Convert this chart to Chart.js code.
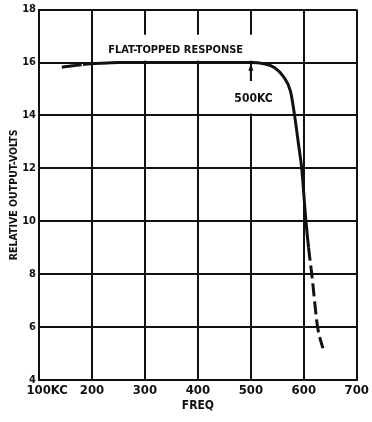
<!DOCTYPE html>
<html lang="en">
<head>
    <meta charset="UTF-8">
    <title>Flat-topped response</title>
    <script src="https://cdn.jsdelivr.net/npm/chart.js"></script>
    <style>
        body {
            margin: 0;
            padding: 0;
            background-color: #ffffff;
        }
        canvas {
            display: block;
        }
    </style>
</head>
<body>

<canvas id="grafico" width="372" height="422"></canvas>

<script>
    // Datos
    const freqs = [143, 183, 215, 250, 300, 400, 500, 525, 545, 562, 575, 584, 590, 596, 604, 609, 615, 626, 636];
    const volts = [15.82, 15.92, 15.97, 16.0, 16.0, 16.0, 16.0, 15.95, 15.8, 15.45, 14.9, 13.8, 12.9, 12.0, 10.0, 9.0, 8.0, 6.0, 5.2];
    const xTicks = [100, 200, 300, 400, 500, 600, 700];
    const yTicks = [4, 6, 8, 10, 12, 14, 16, 18];

    const fuente = "'Liberation Sans Narrow', 'DejaVu Sans Condensed', 'Liberation Sans', sans-serif";
    const negro = '#111111';

    // Textos y flecha sobre el grafico
    const anotaciones = {
        id: 'anotaciones',
        beforeDatasetsDraw(chart) {
            const {ctx, scales: {x, y}} = chart;
            ctx.save();
            ctx.fillStyle = '#ffffff';
            // fondo blanco tras los textos (tapa la rejilla)
            ctx.fillRect(x.getPixelForValue(233), y.getPixelForValue(17.05),
                x.getPixelForValue(508) - x.getPixelForValue(233),
                y.getPixelForValue(16.07) - y.getPixelForValue(17.05));
            ctx.fillRect(x.getPixelForValue(470), y.getPixelForValue(15.3),
                x.getPixelForValue(540) - x.getPixelForValue(470),
                y.getPixelForValue(14.07) - y.getPixelForValue(15.3));
            ctx.restore();
        },
        afterDatasetsDraw(chart) {
            const {ctx, scales: {x, y}} = chart;
            ctx.save();
            ctx.fillStyle = negro;
            ctx.strokeStyle = negro;
            ctx.textAlign = 'center';
            ctx.textBaseline = 'middle';
            ctx.font = 'bold 11px ' + fuente;
            ctx.fillText('FLAT-TOPPED RESPONSE', x.getPixelForValue(358), y.getPixelForValue(16.46));
            ctx.font = 'bold 12px ' + fuente;
            ctx.fillText('500KC', x.getPixelForValue(505), y.getPixelForValue(14.63));

            // flecha hacia 500KC
            const ax = x.getPixelForValue(500);
            const punta = y.getPixelForValue(15.95);
            ctx.lineWidth = 2;
            ctx.beginPath();
            ctx.moveTo(ax, y.getPixelForValue(15.33));
            ctx.lineTo(ax, punta + 4);
            ctx.stroke();
            ctx.beginPath();
            ctx.moveTo(ax, punta);
            ctx.lineTo(ax - 2.5, punta + 7);
            ctx.lineTo(ax + 2.5, punta + 7);
            ctx.closePath();
            ctx.fill();
            ctx.restore();
        }
    };

    const ctxGrafico = document.getElementById('grafico').getContext('2d');
    new Chart(ctxGrafico, {
        type: 'line',
        data: {
            datasets: [{
                label: 'Relative output',
                data: freqs.map((f, i) => ({x: f, y: volts[i]})),
                borderColor: negro,
                borderWidth: 3,
                pointRadius: 0,
                fill: false,
                cubicInterpolationMode: 'monotone',
                borderCapStyle: 'butt',
                segment: {
                    borderDash: c => {
                        if (c.p1.parsed.x <= 183) return [20, 3];
                        if (c.p0.parsed.y <= 9) return [13, 5];
                        return undefined;
                    }
                }
            }]
        },
        options: {
            responsive: false,
            animation: false,
            layout: {
                padding: {left: 0, right: 11, top: 6, bottom: 0}
            },
            plugins: {
                legend: {display: false},
                tooltip: {enabled: false}
            },
            scales: {
                x: {
                    type: 'linear',
                    min: 100,
                    max: 700,
                    afterBuildTicks: s => { s.ticks = xTicks.map(v => ({value: v})); },
                    afterFit: s => { s.height = 42; },
                    ticks: {
                        color: negro,
                        padding: 3,
                        autoSkip: false,
                        maxRotation: 0,
                        font: {family: fuente, size: 13, weight: 'bold'},
                        callback: v => v === 100 ? '    100KC' : String(v)
                    },
                    grid: {color: negro, lineWidth: 2, drawTicks: false},
                    border: {color: negro, width: 2},
                    title: {
                        display: true,
                        text: 'FREQ',
                        color: negro,
                        font: {family: fuente, size: 12, weight: 'bold'},
                        padding: {top: 0, bottom: 9}
                    }
                },
                y: {
                    min: 4,
                    max: 18,
                    afterBuildTicks: s => { s.ticks = yTicks.map(v => ({value: v})); },
                    afterFit: s => { s.width = 39; },
                    ticks: {
                        color: negro,
                        padding: 3,
                        font: {family: fuente, size: 11, weight: 'bold'}
                    },
                    grid: {color: negro, lineWidth: 2, drawTicks: false},
                    border: {color: negro, width: 2},
                    title: {
                        display: true,
                        text: 'RELATIVE OUTPUT-VOLTS',
                        color: negro,
                        font: {family: fuente, size: 10.5, weight: 'bold'},
                        padding: {top: 8, bottom: 0}
                    }
                }
            }
        },
        plugins: [anotaciones]
    });
</script>

</body>
</html>
